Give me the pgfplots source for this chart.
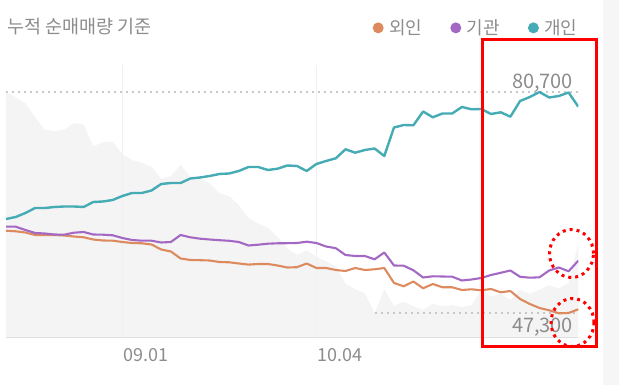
\documentclass[border=0pt]{standalone}
\usepackage{fontspec}
\setmainfont{Noto Sans CJK KR}
\usepackage{pgfplots}
\usepackage{pgfplotstable}
\pgfplotsset{compat=1.18}
\definecolor{cOrange}{HTML}{DC8A5E}
\definecolor{cPurple}{HTML}{A368C4}
\definecolor{cTeal}{HTML}{45ABB4}
\definecolor{cArea}{HTML}{F4F4F4}
\definecolor{cText}{HTML}{8C8C8C}
\definecolor{cDot}{HTML}{C8C8C8}
\definecolor{cStrip}{HTML}{F6F6F6}
\pgfplotstableread{
i price foreign inst indiv
0 80700 107.3 111.3 119
1 79900 106.7 111.3 121
2 79000 105.5 108 125
3 76900 103 105 130
4 75000 103 104.5 130
5 74800 103 103.5 131
6 75000 102.5 103.3 131.5
7 76000 101.5 105.3 131.5
8 75800 100.7 106 131
9 72500 98.5 103.5 136
10 73100 97.5 103.3 136.5
11 73200 97.3 102.7 138
12 71300 96 100 142
13 70400 95 98 145
14 70000 94.7 97.3 145
15 69400 93.5 97.3 147.5
16 67600 88.5 95.5 154
17 68000 86.5 96 155
18 69700 79.5 103 155
19 67900 78 100.7 159.5
20 67700 77.8 99.3 160.5
21 66900 77.5 98.5 162
22 65400 76 97.8 164
23 65000 75.7 97.2 164.5
24 63600 74.5 96 167
25 61700 73.4 92.5 171
26 60800 74 93.3 171
27 60200 74 94.3 168
28 58800 72.5 94.7 169.3
29 57000 70.5 94.8 172.5
30 56100 70.8 95 172
31 56800 74.5 96.3 167
32 55800 70 95 174
33 55100 70 91.5 177
34 54400 68 89.8 179.7
35 51700 67 83 188.7
36 50900 70 82 185.3
37 50300 68 82 188
38 47300 68.7 78.7 189.5
39 50900 70 85.5 182
40 48400 55 72.5 210.5
41 49000 51.7 72.3 213
42 48300 56.5 67.7 212.7
43 47800 49.7 60.5 226.5
44 48700 54 61.7 220.7
45 48300 50.7 61.5 224.5
46 48500 50.7 61.3 224.5
47 48200 48 57.5 231
48 48500 48.7 58.5 228.7
49 50800 47.7 60 229
50 49800 49 63 224
51 50200 45.7 65.2 225.7
52 49300 47 67.5 221.3
53 50800 39 61.2 237
54 50200 34 60.3 241
55 50800 30 60.7 246
56 51500 27.7 67.5 240.5
57 51000 24.7 70.5 242
58 51800 25 66.7 245.5
59 57900 28.7 77.3 231.3
}\chartdata

\begin{document}
\begin{tikzpicture}
\useasboundingbox (-6pt,-47pt) rectangle (619pt,338pt);
\fill[cStrip] (597pt,-47pt) rectangle (613pt,338pt);
% price area axis
\begin{axis}[
  at={(0pt,0pt)}, anchor=south west,
  scale only axis, width=572.3pt, height=273pt,
  xmin=0, xmax=59, ymin=43522, ymax=84780,
  hide axis, clip=true,
]
\addplot[fill=cArea, draw=none] table[x=i, y=price] {\chartdata} \closedcycle;
\addplot[cDot, line width=1.2pt, dash pattern=on 2pt off 4pt] coordinates {(0,80700) (59,80700)};
\addplot[cDot, line width=1.2pt, dash pattern=on 2pt off 4pt] coordinates {(38,47300) (59,47300)};
\node[anchor=base east, text=cText, font=\fontsize{20}{24}\selectfont, inner sep=0pt, xshift=-5pt, yshift=3pt] at (axis cs:59,80700) {80,700};
\node[anchor=base east, text=cText, font=\fontsize{20}{24}\selectfont, inner sep=0pt, xshift=-5pt, yshift=-20pt] at (axis cs:59,47300) {47,300};
\end{axis}
% net buying axis
\begin{axis}[
  at={(0pt,0pt)}, anchor=south west,
  scale only axis, width=572.3pt, height=273pt,
  xmin=0, xmax=59, ymin=0, ymax=273,
  axis x line=bottom, axis y line=none,
  x axis line style={draw=black!12, line width=1pt, -},
  xtick={12,32}, xticklabels={09.01,10.04},
  major tick length=0pt, ytick=\empty,
  xmajorgrids, grid style={black!6, line width=1pt},
  xticklabel style={anchor=base west, text=cText, font=\fontsize{18}{22}\selectfont, inner sep=0pt, yshift=-24pt, xshift=0.5pt},
  legend image code/.code={\fill[#1, draw=none] (0pt,0pt) circle (5.5pt);},
  legend style={draw=none, fill=none, at={(axis description cs:0.6404,1.136)}, anchor=west,
    legend columns=3, font=\fontsize{18}{22}\selectfont, text=cText, inner sep=0pt,
    nodes={inner sep=0pt},
    /tikz/every odd column/.append style={column sep=5.5pt},
    /tikz/every even column/.append style={column sep=28pt}},
]
\addplot[cOrange, line width=2.1pt, line join=round] table[x=i, y=foreign] {\chartdata};
\addlegendentry{외인}
\addplot[cPurple, line width=2.1pt, line join=round] table[x=i, y=inst] {\chartdata};
\addlegendentry{기관}
\addplot[cTeal, line width=2.4pt, line join=round] table[x=i, y=indiv] {\chartdata};
\addlegendentry{개인}
\end{axis}
% title
\node[anchor=base west, text=cText, font=\fontsize{18.5}{22}\selectfont, inner sep=0pt] at (1pt,304pt) {누적 순매매량 기준};
% annotations
\draw[red, line width=3pt] (476.5pt,-8.5pt) rectangle (590.5pt,298pt);
\draw[red, line width=3pt, dash pattern=on 3pt off 4pt] (565.5pt,84.5pt) ellipse [x radius=22pt, y radius=24pt];
\draw[red, line width=3pt, dash pattern=on 3pt off 4pt] (566.5pt,15.5pt) ellipse [x radius=21.5pt, y radius=24pt];
\end{tikzpicture}
\end{document}
